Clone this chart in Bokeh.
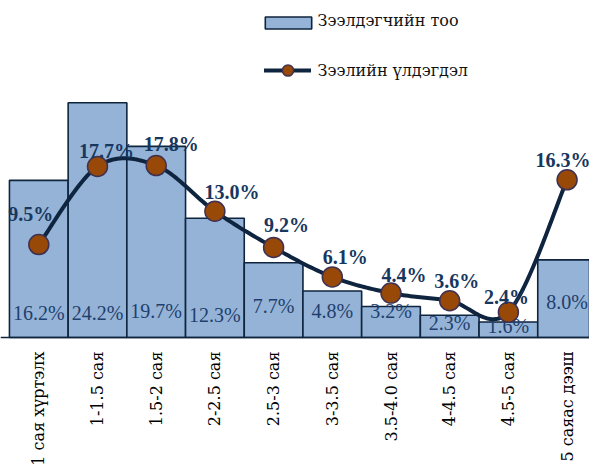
import numpy as np
from bokeh.plotting import figure
from bokeh.models import Range1d, FixedTicker, ColumnDataSource, Legend, LegendItem
from bokeh.core.properties import value
from bokeh.embed import file_html
from bokeh.resources import INLINE

# ---- data ----
categories = ["1 сая хүртэлх", "1-1.5 сая", "1.5-2 сая", "2-2.5 сая", "2.5-3 сая",
              "3-3.5 сая", "3.5-4.0 сая", "4-4.5 сая", "4.5-5 сая", "5 саяас дээш"]
borrowers_pct = [16.2, 24.2, 19.7, 12.3, 7.7, 4.8, 3.2, 2.3, 1.6, 8.0]
balance_pct = [9.5, 17.7, 17.8, 13.0, 9.2, 6.1, 4.4, 3.6, 2.4, 16.3]
series_names = ["Зээлдэгчийн тоо", "Зээлийн үлдэгдэл"]

# ---- layout / style constants ----
W, H = 589, 468
CAT_PX = 58.7           # pixels per category
FIRST_CENTER_PX = 38.3  # first category centre from the frame's left edge
BAR_PX = 9.7            # pixels per percent (bars)
BAR_BASE = 337          # bar baseline from frame top
LINE_PX = 9.52          # pixels per percent (line)
LINE_BASE = 334.5       # line zero from frame top
SERIF = "Liberation Serif"
CYR_SERIF = "DejaVu Serif"
BAR_FILL = "#95B3D7"
DARK = "#0F243E"
LABEL_BLUE = "#1F3F6E"
BOLD_BLUE = "#17375E"
# label nudges (pixels)
lab_dx = [-8, 9, 15, 17, 13, 13, 13, 7, -2, -4]
lab_dy = [-31, -15, -22, -19, -22, -20, -18, -20, -15, -20]
bar_lab_dy = [1, 1, -1, 3, -6, -1, -1, 11, 14, -10]
LEGEND_TEXT_X = 317       # px from left
LEGEND_TEXT_Y = [20, 70]  # px from top

idx = list(range(len(categories)))
x_start = -FIRST_CENTER_PX / CAT_PX
x_end = x_start + W / CAT_PX

p = figure(width=W, height=H, output_backend="svg", toolbar_location=None,
           x_range=Range1d(x_start, x_end),
           y_range=Range1d(-(H - BAR_BASE) / BAR_PX, BAR_BASE / BAR_PX),
           y_axis_location=None, min_border=0)
p.extra_y_ranges = {"line": Range1d(-(H - LINE_BASE) / LINE_PX, LINE_BASE / LINE_PX)}
p.grid.visible = False
p.outline_line_color = None
p.background_fill_color = "white"

bar_src = ColumnDataSource(dict(x=idx, top=borrowers_pct,
                                lab=[f"{v:.1f}%" for v in borrowers_pct],
                                ly=[2.6] * len(idx), dy=bar_lab_dy))
bars = p.vbar(x="x", top="top", bottom=0, width=1.0, source=bar_src,
              fill_color=BAR_FILL, line_color=DARK, line_width=1.6)

p.text(x="x", y="ly", text="lab", source=bar_src, y_offset="dy", text_align="center",
       text_baseline="middle", text_color=LABEL_BLUE,
       text_font=value(SERIF), text_font_size=value("20px"))

# smooth (Catmull-Rom / Bezier) curve through the line points
xs = np.array(idx, dtype=float)
ys = np.array(balance_pct, dtype=float)
cx, cy = [], []
n = len(xs)
for i in range(n - 1):
    p0 = np.array([xs[max(i - 1, 0)], ys[max(i - 1, 0)]])
    p1 = np.array([xs[i], ys[i]])
    p2 = np.array([xs[i + 1], ys[i + 1]])
    p3 = np.array([xs[min(i + 2, n - 1)], ys[min(i + 2, n - 1)]])
    c1 = p1 + (p2 - p0) / 6.0
    c2 = p2 - (p3 - p1) / 6.0
    ts = np.linspace(0, 1, 25) if i == n - 2 else np.linspace(0, 1, 25)[:-1]
    for t in ts:
        b = ((1 - t) ** 3) * p1 + 3 * ((1 - t) ** 2) * t * c1 + 3 * (1 - t) * t * t * c2 + t ** 3 * p2
        cx.append(b[0])
        cy.append(b[1])

line = p.line(cx, cy, y_range_name="line", line_color=DARK, line_width=4,
              line_join="round", line_cap="round")

pt_src = ColumnDataSource(dict(x=idx, y=balance_pct,
                               lab=[f"{v:.1f}%" for v in balance_pct],
                               dx=lab_dx, dy=lab_dy))
pts = p.scatter(x="x", y="y", source=pt_src, y_range_name="line", size=20,
                fill_color="#984807", line_color="#3F3151", line_width=1.5)
p.text(x="x", y="y", text="lab", source=pt_src, y_range_name="line",
       x_offset="dx", y_offset="dy", text_align="center",
       text_baseline="alphabetic", text_color=BOLD_BLUE, text_font_style="bold",
       text_font=value(SERIF), text_font_size=value("20px"))

# x axis (line only); category names drawn as serif text below it
ax = p.xaxis[0]
ax.fixed_location = 0
ax.ticker = FixedTicker(ticks=[])
ax.major_tick_in = 0
ax.major_tick_out = 0
ax.minor_tick_in = 0
ax.minor_tick_out = 0
ax.axis_line_color = DARK
ax.axis_line_width = 1.5

cat_src = ColumnDataSource(dict(x=idx, y=[0] * len(idx), t=categories))
p.text(x="x", y="y", text="t", source=cat_src, y_offset=14, angle=np.pi / 2,
       text_align="right", text_baseline="middle", text_color="black",
       text_font=value(CYR_SERIF), text_font_size=value("16px"))

# legends (swatches by Bokeh, names as serif text)
common = dict(padding=0, margin=0, spacing=0, border_line_color=None,
              background_fill_alpha=0, label_text_font_size="1px",
              label_text_alpha=0, label_height=1)
leg1 = Legend(items=[LegendItem(label="", renderers=[bars])],
              location=(259, 438), glyph_width=58, glyph_height=15,
              label_standoff=0, **common)
leg2 = Legend(items=[LegendItem(label="", renderers=[line, pts])],
              location=(264, 384), glyph_width=47, glyph_height=28,
              label_standoff=0, **common)
p.add_layout(leg1)
p.add_layout(leg2)

leg_src = ColumnDataSource(dict(
    x=[x_start + LEGEND_TEXT_X / CAT_PX] * 2,
    y=[(BAR_BASE - v) / BAR_PX for v in LEGEND_TEXT_Y],
    t=series_names))
p.text(x="x", y="y", text="t", source=leg_src, text_align="left",
       text_baseline="middle", text_color="#111111",
       text_font=value(CYR_SERIF), text_font_size=value("16px"))

open("out.html", "w").write(file_html(p, INLINE))
